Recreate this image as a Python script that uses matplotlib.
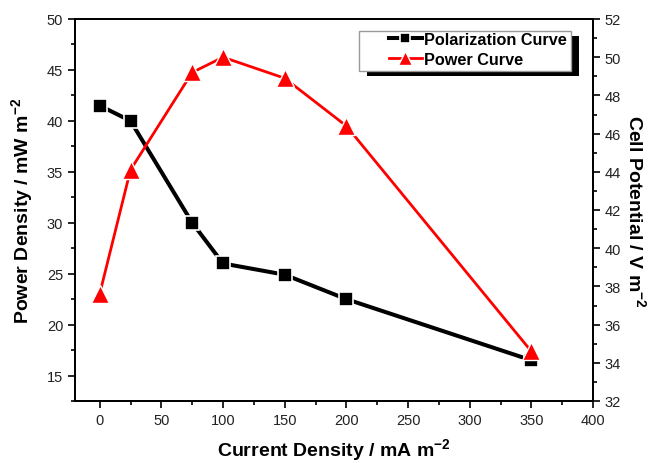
import matplotlib.pyplot as plt
from matplotlib.ticker import MultipleLocator
from matplotlib.patches import Rectangle

plt.rcParams['font.family'] = ['Liberation Sans', 'DejaVu Sans']
plt.rcParams['mathtext.fontset'] = 'custom'
plt.rcParams['mathtext.rm'] = 'Liberation Sans'
plt.rcParams['mathtext.bf'] = 'Liberation Sans:bold'

current = [0, 25, 75, 100, 150, 200, 350]
polarization = [41.5, 40.0, 30.0, 26.0, 24.9, 22.5, 16.5]
power = [37.6, 44.1, 49.2, 50.0, 48.9, 46.4, 34.6]

W, H = 652, 464
fig = plt.figure(figsize=(W / 100, H / 100), dpi=100)
ax1 = fig.add_axes([75 / W, 1 - 402 / H, 518 / W, 382 / H])
ax2 = ax1.twinx()

l1, = ax1.plot(current, polarization, color='black', lw=2.9, marker='s', ms=10.5,
               mec='white', mew=1.2, zorder=3)
l2, = ax2.plot(current, power, color='red', lw=2.0, marker='^', ms=13,
               mec='white', mew=1.0, zorder=3)

ax1.set_xlim(-20, 400)
ax1.set_ylim(12.5, 50)
ax2.set_ylim(32, 52)

ax1.xaxis.set_major_locator(MultipleLocator(50))
ax1.xaxis.set_minor_locator(MultipleLocator(25))
ax1.yaxis.set_major_locator(MultipleLocator(5))
ax1.yaxis.set_minor_locator(MultipleLocator(2.5))
ax2.yaxis.set_major_locator(MultipleLocator(2))
ax2.yaxis.set_minor_locator(MultipleLocator(1))

for ax in (ax1, ax2):
    ax.tick_params(which='major', direction='out', length=5, width=1.2,
                   labelsize=10.5, labelcolor='#222222')
    ax.tick_params(which='minor', direction='out', length=3, width=1.2)
    for s in ax.spines.values():
        s.set_linewidth(1.3)

ax1.set_xlabel('Current Density / mA m$^{\\mathbf{-2}}$', fontsize=14,
               fontweight='bold', labelpad=7)
ax1.set_ylabel('Power Density / mW m$^{\\mathbf{-2}}$', fontsize=14,
               fontweight='bold', labelpad=8)
ax2.set_ylabel('Cell Potential / V m$^{\\mathbf{-2}}$', fontsize=14, fontweight='bold',
               rotation=270, va='bottom', labelpad=2)

# legend box with drop shadow (Origin style)
fig.patches.append(Rectangle((367 / W, 1 - 77 / H), 212 / W, 40 / H,
                             transform=fig.transFigure, facecolor='black',
                             edgecolor='none', zorder=4))
fig.patches.append(Rectangle((359 / W, 1 - 72 / H), 212 / W, 40 / H,
                             transform=fig.transFigure, facecolor='white',
                             edgecolor='#999999', lw=1.0, zorder=5))

leg = ax1.legend([l1, l2], ['Polarization Curve', 'Power Curve'],
                 loc='upper left', bbox_to_anchor=(389 / W, 1 - 33 / H),
                 bbox_transform=fig.transFigure, frameon=False,
                 borderpad=0, borderaxespad=0, handlelength=2.0,
                 handletextpad=0.15, labelspacing=0.3, markerscale=0.75,
                 prop={'weight': 'bold', 'size': 11.7})
leg.remove()
fig.add_artist(leg)
leg.set_zorder(6)

fig.savefig('out.png', dpi=100)
